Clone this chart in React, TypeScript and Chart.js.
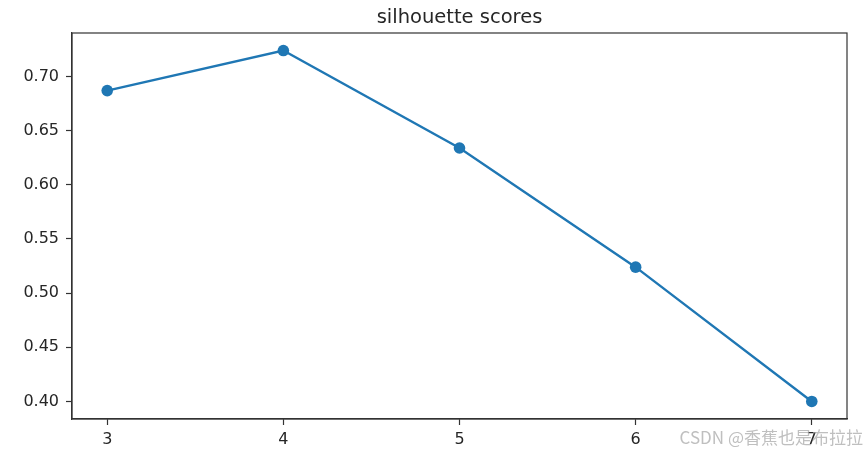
import React, { useEffect, useRef } from "react";
import { Chart, registerables } from "chart.js";

Chart.register(...registerables);

const kValues = [3, 4, 5, 6, 7];
const scores = [0.687, 0.724, 0.634, 0.524, 0.4];
const xTicks = [3, 4, 5, 6, 7];
const yTicks = [0.4, 0.45, 0.5, 0.55, 0.6, 0.65, 0.7];
const titleText = "silhouette scores";
const watermarkText = "CSDN @香蕉也是布拉拉";

const W = 866;
const H = 453;
const AREA = { left: 72, top: 33, right: 847, bottom: 419 };
const FONT = "'DejaVu Sans', Verdana, sans-serif";
const TEXT = "#262626";
const BLUE = "#1f77b4";

export default function App() {
  const ref = useRef<HTMLCanvasElement | null>(null);

  useEffect(() => {
    document.body.style.margin = "0";
    const canvas = ref.current;
    if (!canvas) return;

    const overlay = {
      id: "overlay",
      afterDraw(chart: any) {
        const { ctx, chartArea } = chart;
        ctx.save();
        ctx.strokeStyle = "#333333";
        ctx.lineWidth = 1.2;
        ctx.strokeRect(
          chartArea.left,
          chartArea.top,
          chartArea.right - chartArea.left,
          chartArea.bottom - chartArea.top
        );
        ctx.fillStyle = TEXT;
        ctx.font = `19.5px ${FONT}`;
        ctx.textAlign = "center";
        ctx.textBaseline = "alphabetic";
        ctx.fillText(titleText, (chartArea.left + chartArea.right) / 2, 23);
        ctx.font = `17px 'Noto Sans CJK SC', 'DejaVu Sans', sans-serif`;
        ctx.fillStyle = "rgba(170,170,170,0.75)";
        ctx.textAlign = "right";
        ctx.fillText(watermarkText, 863, 444);
        ctx.restore();
      },
    };

    const chart = new Chart(canvas, {
      type: "line",
      data: {
        datasets: [
          {
            data: kValues.map((k, i) => ({ x: k, y: scores[i] })),
            borderColor: BLUE,
            backgroundColor: BLUE,
            borderWidth: 2.4,
            pointRadius: 5.8,
            pointBorderWidth: 0,
            pointBackgroundColor: BLUE,
            tension: 0,
            clip: false as any,
          },
        ],
      },
      options: {
        animation: false,
        responsive: false,
        maintainAspectRatio: false,
        layout: {
          padding: { left: 0, top: AREA.top, right: W - AREA.right, bottom: 0 },
        },
        plugins: {
          legend: { display: false },
          tooltip: { enabled: false },
          title: { display: false },
        },
        scales: {
          x: {
            type: "linear",
            min: 2.8,
            max: 7.2,
            afterBuildTicks: (s: any) => {
              s.ticks = xTicks.map((v) => ({ value: v }));
            },
            afterFit: (s: any) => {
              s.height = H - AREA.bottom;
            },
            grid: {
              drawOnChartArea: false,
              drawTicks: true,
              tickLength: 6,
              tickColor: "#333333",
              tickWidth: 1.2,
            },
            border: { color: "#333333", width: 1.2 },
            ticks: {
              padding: 5,
              color: TEXT,
              font: { family: FONT, size: 16 },
              maxRotation: 0,
              autoSkip: false,
              callback: (v: any) => String(v),
            },
          },
          y: {
            type: "linear",
            min: 0.3838,
            max: 0.7402,
            afterBuildTicks: (s: any) => {
              s.ticks = yTicks.map((v) => ({ value: v }));
            },
            afterFit: (s: any) => {
              s.width = AREA.left;
            },
            grid: {
              drawOnChartArea: false,
              drawTicks: true,
              tickLength: 6,
              tickColor: "#333333",
              tickWidth: 1.2,
            },
            border: { color: "#333333", width: 1.2 },
            ticks: {
              padding: 7,
              color: TEXT,
              font: { family: FONT, size: 16 },
              autoSkip: false,
              callback: (v: any) => Number(v).toFixed(2),
            },
          },
        },
      },
      plugins: [overlay],
    });

    return () => chart.destroy();
  }, []);

  return (
    <div style={{ width: W, height: H, background: "#ffffff" }}>
      <canvas ref={ref} width={W} height={H} style={{ display: "block" }} />
    </div>
  );
}
